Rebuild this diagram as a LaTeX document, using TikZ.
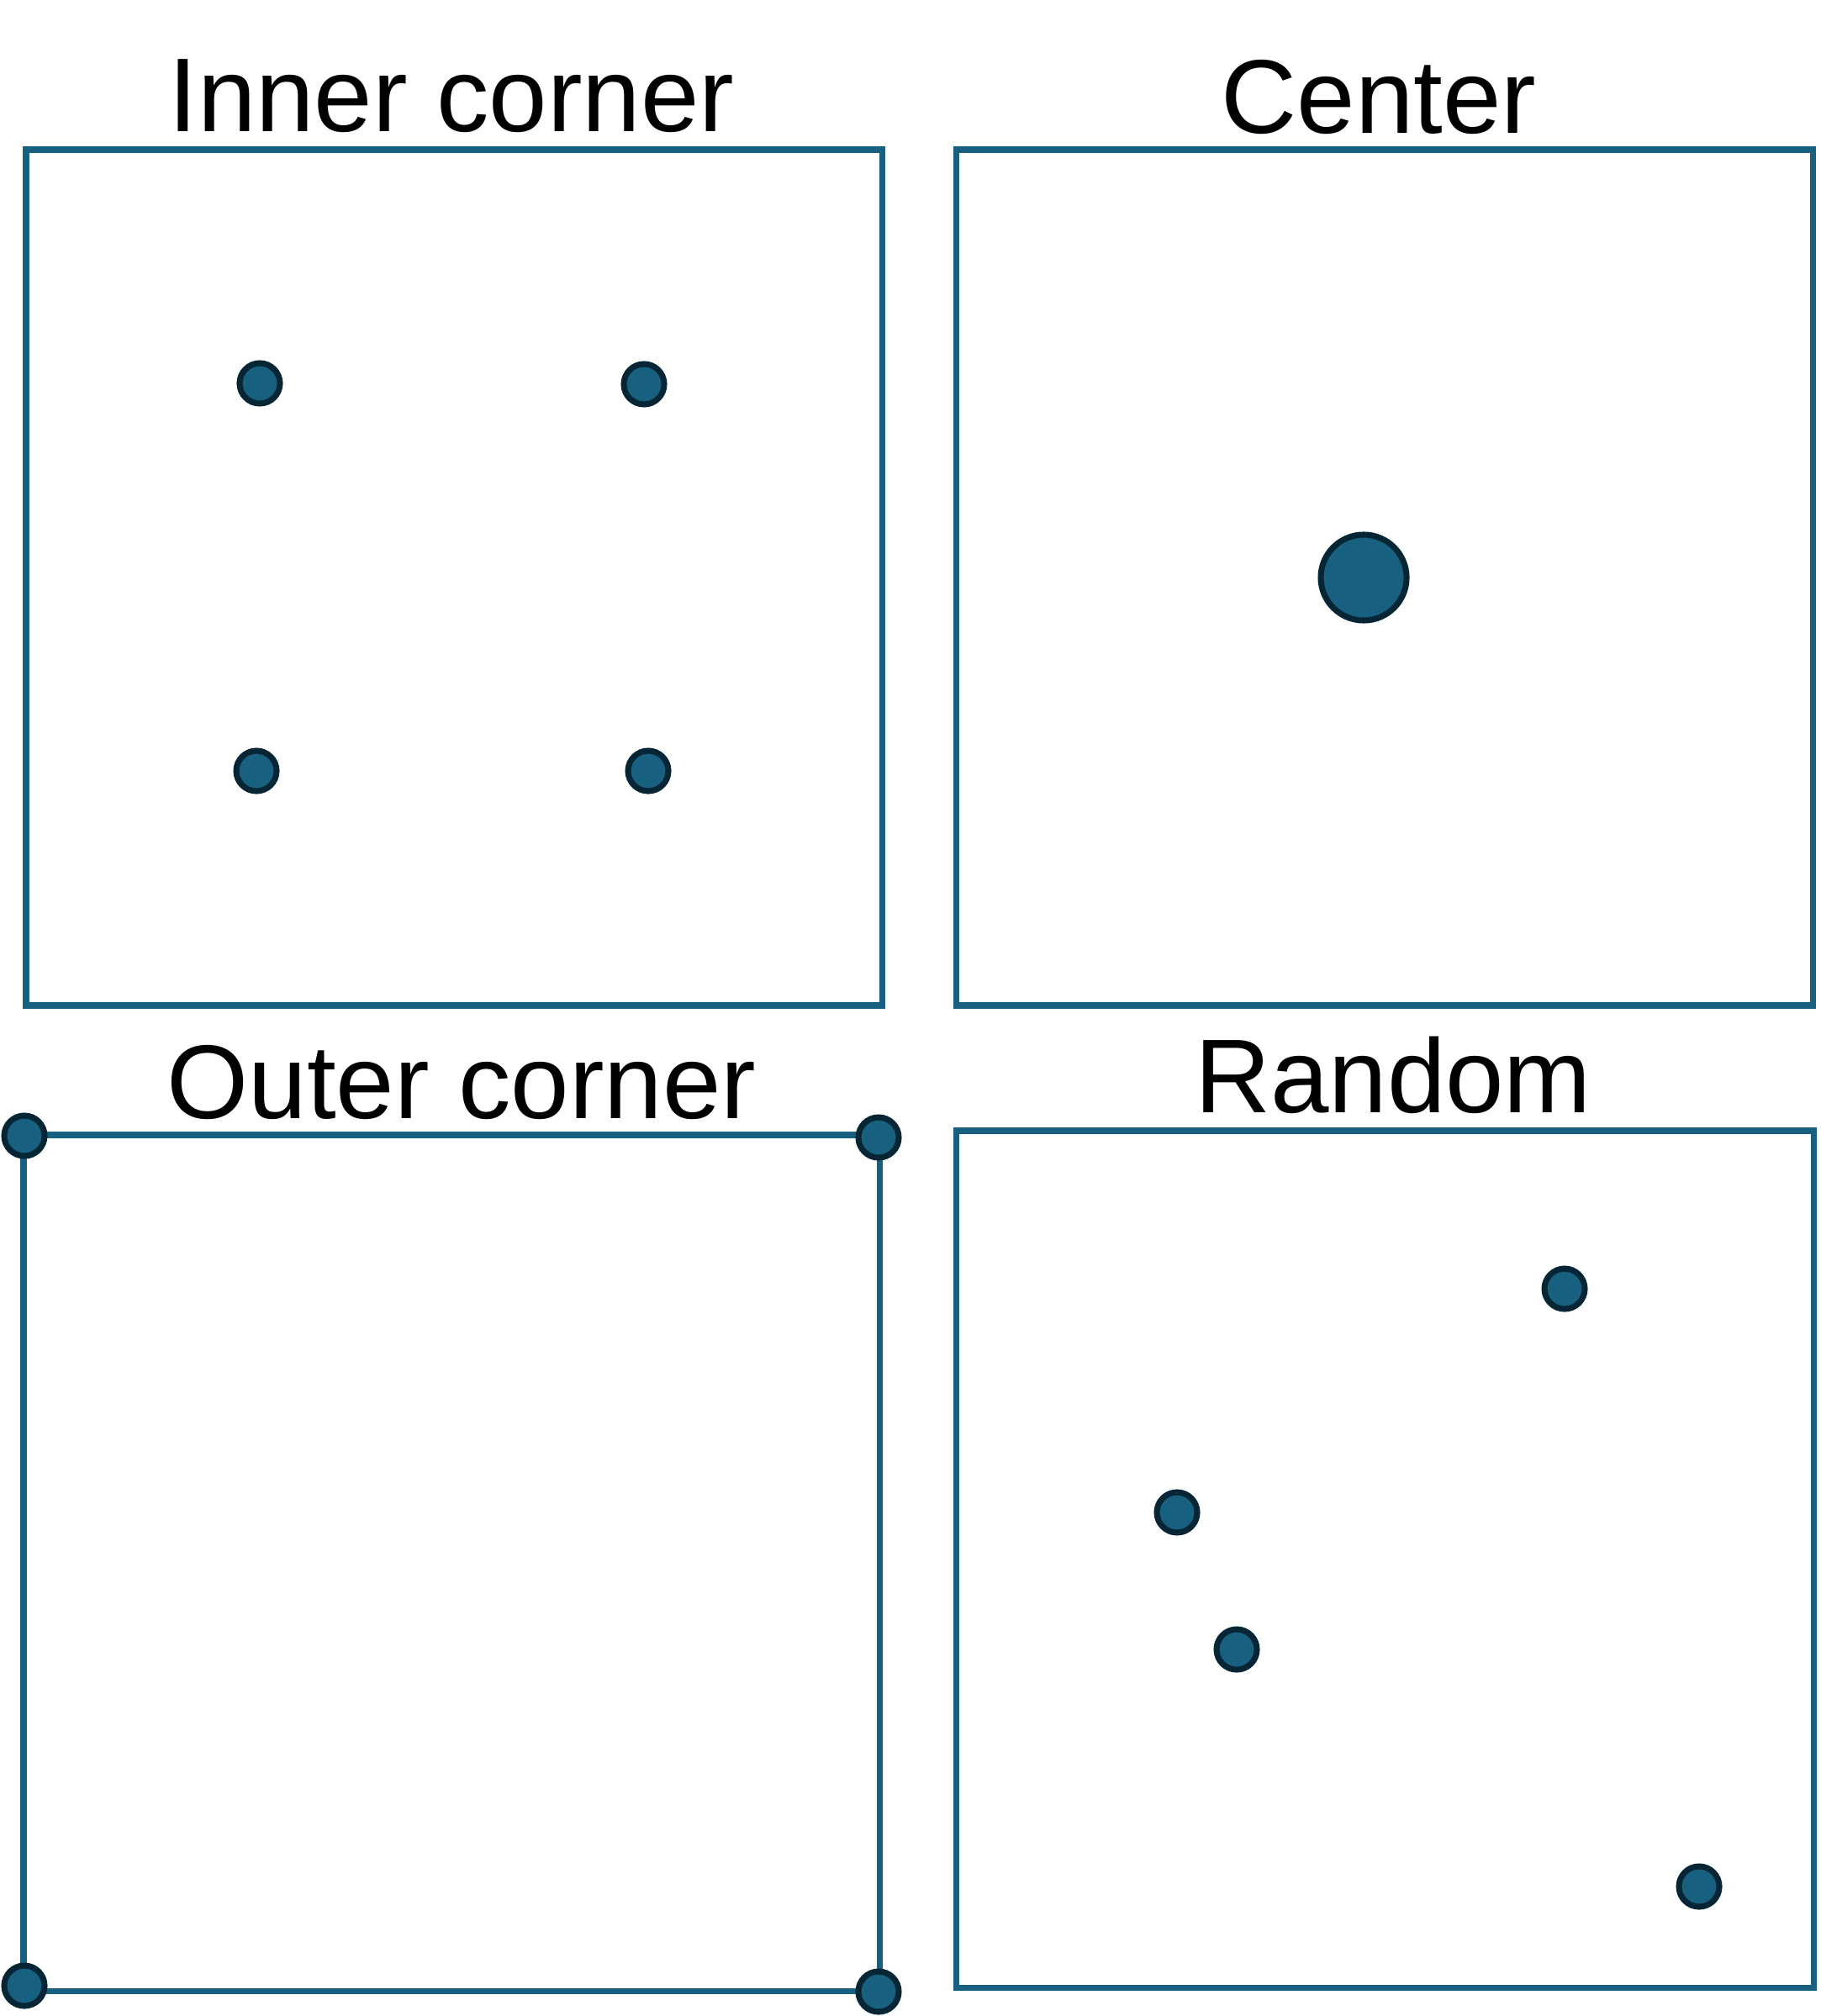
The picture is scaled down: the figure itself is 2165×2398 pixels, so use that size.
\documentclass[tikz,border=0pt]{standalone}
\usepackage{fontspec}
\setmainfont{Liberation Sans}
\usepackage{tikz}
\usetikzlibrary{positioning, calc}
\definecolor{boxblue}{HTML}{17607F}
\definecolor{dotrim}{HTML}{062535}

\tikzset{
  frame/.style={draw=boxblue, line width=2pt},
  dot/.style={circle, fill=boxblue, draw=dotrim, line width=2pt, minimum size=0.48cm, inner sep=0pt},
  bigdot/.style={dot, minimum size=1.02cm},
  title/.style={anchor=base, inner sep=0pt, font=\fontsize{35.5}{40}\selectfont}
}

\begin{document}
\begin{tikzpicture}[x=0.01cm, y=-0.01cm]
  \useasboundingbox (0,0) rectangle (2165,2398);
  \draw[frame] (31,178) rectangle (1049,1196);
  \draw[frame] (1137,178) rectangle (2156,1196);
  \draw[frame] (28,1350) rectangle (1046,2368);
  \draw[frame] (1137,1345) rectangle (2157,2364);
  \node[title] (tinner) at (537,157) {Inner corner};
  \node[title] (tcenter) at (1640,159) {Center};
  \node[title] (touter) at (549,1330) {Outer corner};
  \node[title] (trandom) at (1657,1323) {Random};
  \node[dot] (in1) at (309,456) {};
  \node[dot] (in2) at (766,457) {};
  \node[dot] (in3) at (305,917) {};
  \node[dot] (in4) at (771,917) {};
  \node[bigdot] (ce) at (1622,687) {};
  \node[dot] (ou1) at (29,1351) {};
  \node[dot] (ou2) at (1045,1353) {};
  \node[dot] (ou3) at (29,2362) {};
  \node[dot] (ou4) at (1045,2369) {};
  \node[dot] (ra1) at (1861,1533) {};
  \node[dot] (ra2) at (1400,1799) {};
  \node[dot] (ra3) at (1471,1962) {};
  \node[dot] (ra4) at (2021,2244) {};
\end{tikzpicture}
\end{document}
